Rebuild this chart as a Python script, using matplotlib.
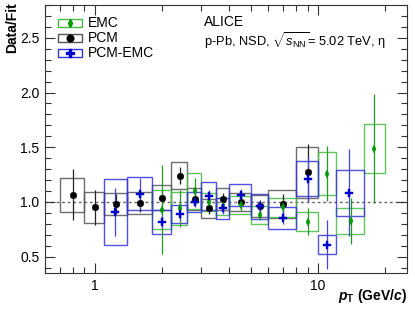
import matplotlib
matplotlib.use("Agg")
import matplotlib.pyplot as plt
from matplotlib.patches import Rectangle
from matplotlib.ticker import FixedLocator, NullFormatter, MultipleLocator, FormatStrFormatter

plt.rcParams["font.family"] = ["Liberation Sans", "DejaVu Sans"]
plt.rcParams["mathtext.fontset"] = "custom"
plt.rcParams["mathtext.rm"] = "Liberation Sans"
plt.rcParams["mathtext.it"] = "Liberation Sans:italic"
plt.rcParams["mathtext.bf"] = "Liberation Sans:bold"
plt.rcParams["mathtext.bfit"] = "Liberation Sans:italic:bold"

# PCM
pcm_lo = [0.7, 0.9, 1.1, 1.4, 1.8, 2.2, 2.6, 3.0, 3.5, 4.0, 5.0, 6.0, 8.0]
pcm_hi = [0.9, 1.1, 1.4, 1.8, 2.2, 2.6, 3.0, 3.5, 4.0, 5.0, 6.0, 8.0, 10.0]
pcm_x = [0.8, 1.0, 1.25, 1.6, 2.0, 2.4, 2.8, 3.25, 3.75, 4.5, 5.5, 7.0, 9.0]
pcm_y = [1.067, 0.95, 0.98, 0.99, 1.04, 1.24, 1.03, 0.94, 1.03, 1.0, 0.96, 0.98, 1.27]
pcm_stat = [0.23, 0.16, 0.09, 0.08, 0.07, 0.075, 0.05, 0.05, 0.05, 0.05, 0.06, 0.09, 0.26]
pcm_sys = [0.155, 0.14, 0.10, 0.10, 0.11, 0.125, 0.10, 0.09, 0.10, 0.085, 0.10, 0.13, 0.23]

# EMC
emc_lo = [1.8, 2.2, 2.6, 3.0, 3.5, 4.0, 5.0, 6.0, 8.0, 10.0, 12.0, 16.0]
emc_hi = [2.2, 2.6, 3.0, 3.5, 4.0, 5.0, 6.0, 8.0, 10.0, 12.0, 16.0, 20.0]
emc_x = [2.0, 2.4, 2.8, 3.25, 3.75, 4.5, 5.5, 7.0, 9.0, 11.0, 14.0, 17.8]
emc_y = [0.93, 0.94, 1.10, 1.00, 0.96, 0.97, 0.88, 0.95, 0.82, 1.257, 0.826, 1.486]
emc_stat = [0.41, 0.17, 0.12, 0.05, 0.05, 0.05, 0.05, 0.07, 0.12, 0.25, 0.21, 0.5]
emc_sys = [0.18, 0.15, 0.165, 0.08, 0.08, 0.08, 0.08, 0.09, 0.085, 0.195, 0.115, 0.225]

# PCM-EMC
pe_lo = [1.1, 1.4, 1.8, 2.2, 2.6, 3.0, 3.5, 4.0, 5.0, 6.0, 8.0, 10.0, 12.0]
pe_hi = [1.4, 1.8, 2.2, 2.6, 3.0, 3.5, 4.0, 5.0, 6.0, 8.0, 10.0, 12.0, 16.0]
pe_x = [1.24, 1.6, 2.0, 2.4, 2.8, 3.25, 3.75, 4.5, 5.5, 7.0, 9.0, 11.0, 13.7]
pe_y = [0.91, 1.076, 0.82, 0.89, 1.0, 1.055, 0.94, 1.064, 0.96, 0.856, 1.21, 0.61, 1.085]
pe_stat = [0.22, 0.145, 0.06, 0.06, 0.05, 0.05, 0.05, 0.05, 0.05, 0.06, 0.2, 0.22, 0.4]
pe_sys = [0.30, 0.15, 0.11, 0.085, 0.09, 0.13, 0.10, 0.10, 0.115, 0.10, 0.16, 0.09, 0.21]

series = [
    # lo, hi, x, y, stat, sys, marker color, bar color, box color, marker, size
    (pcm_lo, pcm_hi, pcm_x, pcm_y, pcm_stat, pcm_sys, "black", "#222222", "#555555", "o", 4.8),
    (emc_lo, emc_hi, emc_x, emc_y, emc_stat, emc_sys, "#009900", "#229922", "#44bb44", "d", 4.2),
    (pe_lo, pe_hi, pe_x, pe_y, pe_stat, pe_sys, "#0000cc", "#4444dd", "#3333dd", "P", 6.0),
]

fig = plt.figure(figsize=(4.15, 3.11), dpi=100)
ax = fig.add_axes([45 / 415, 1 - 273 / 311, 362 / 415, 268 / 311])
ax.set_xscale("log")
ax.set_xlim(0.6, 25)
ax.set_ylim(0.35, 2.8)

ax.axhline(1.0, color="#666666", linestyle=(0, (2, 2)), linewidth=1.0, zorder=1)

for lo, hi, x, y, st, sy, mc, ec, bc, mk, ms in series:
    for l, h, yy, s in zip(lo, hi, y, sy):
        ax.add_patch(Rectangle((l, yy - s), h - l, 2 * s, fill=False,
                               edgecolor=bc, linewidth=1.0, alpha=0.85, zorder=2))
for lo, hi, x, y, st, sy, mc, ec, bc, mk, ms in series:
    ax.errorbar(x, y, yerr=st, fmt="none", ecolor=ec, elinewidth=0.9, capsize=0, zorder=3)
    ax.plot(x, y, linestyle="none", marker=mk, color=mc, markersize=ms,
            markeredgewidth=0.3, zorder=4)

# legend drawn by hand, ROOT style
leg = [("EMC", "#009900", "#44bb44", "d", 4.2),
       ("PCM", "black", "#555555", "o", 4.8),
       ("PCM-EMC", "#0000cc", "#3333dd", "P", 6.0)]
for i, (name, mc, bc, mk, ms) in enumerate(leg):
    yc = 0.933 - i * 0.056
    ax.add_patch(Rectangle((0.036, yc - 0.0145), 0.066, 0.029, fill=False,
                           edgecolor=bc, linewidth=1.0, transform=ax.transAxes, zorder=5))
    ax.plot([0.069], [yc], marker=mk, color=mc, markersize=ms, linestyle="none",
            transform=ax.transAxes, zorder=6)
    ax.text(0.118, yc, name, transform=ax.transAxes, fontsize=10, va="center", ha="left")

ax.text(0.440, 0.935, "ALICE", transform=ax.transAxes, fontsize=10, va="center", ha="left")
ax.text(0.440, 0.868, r"p-Pb, NSD, $\sqrt{s_{\rm NN}}$= 5.02 TeV, η",
        transform=ax.transAxes, fontsize=9.3, va="center", ha="left")

ax.yaxis.set_major_locator(MultipleLocator(0.5))
ax.yaxis.set_minor_locator(MultipleLocator(0.1))
ax.yaxis.set_major_formatter(FormatStrFormatter("%.1f"))
ax.xaxis.set_major_locator(FixedLocator([1, 10]))
ax.xaxis.set_major_formatter(FormatStrFormatter("%g"))
ax.xaxis.set_minor_locator(FixedLocator([0.6, 0.7, 0.8, 0.9, 2, 3, 4, 5, 6, 7, 8, 9, 20]))
ax.xaxis.set_minor_formatter(NullFormatter())
ax.tick_params(which="both", direction="in", top=True, right=True, labelsize=10,
               color="#333333", width=0.8)
ax.tick_params(which="major", length=7.5, pad=4)
ax.tick_params(which="minor", length=4)
for sp in ax.spines.values():
    sp.set_color("#333333")

fig.text(12 / 415, 1 - 2 / 311, "Data/Fit", rotation=90, fontsize=10,
         fontweight="bold", ha="center", va="top")
fig.text(407 / 415, 1 - 296 / 311,
         r"$\mathbfit{p}_{\mathbf{T}}$ (GeV/$\mathbfit{c}$)",
         fontsize=10, fontweight="bold", ha="right", va="center")

fig.savefig("out.png", dpi=100)
